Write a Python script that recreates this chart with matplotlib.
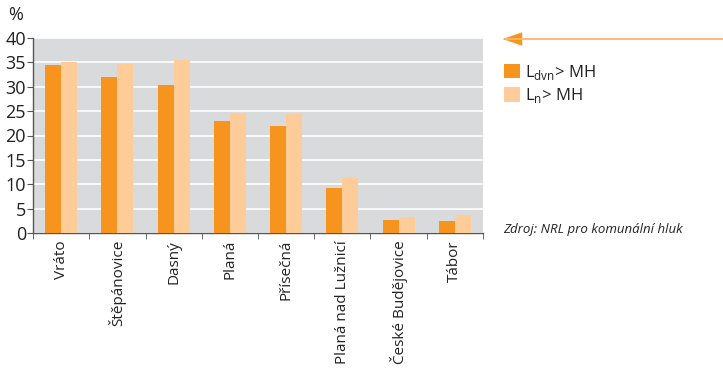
import numpy as np
import matplotlib.pyplot as plt
from matplotlib.patches import FancyArrowPatch

places = ['Vráto', 'Štěpánovice', 'Dasný', 'Planá', 'Přísečná',
          'Planá nad Lužnicí', 'České Budějovice', 'Tábor']
ldvn = [34.5, 32.0, 30.4, 22.9, 22.0, 9.3, 2.7, 2.4]
ln = [35.1, 34.7, 35.5, 24.7, 24.5, 11.3, 3.2, 3.6]

c_dark = '#f7941d'
c_light = '#fdcc99'

plt.rcParams['font.family'] = ['Open Sans', 'DejaVu Sans']
plt.rcParams['mathtext.fontset'] = 'custom'
plt.rcParams['mathtext.rm'] = 'Open Sans'

fig = plt.figure(figsize=(7.23, 3.68), dpi=100)
ax = fig.add_axes([33/723, 1-233/368, 450/723, 195/368])
ax.set_facecolor('#d9dadb')

x = np.arange(len(places))
w = 0.285
b1 = ax.bar(x - w/2, ldvn, w, color=c_dark, zorder=3)
b2 = ax.bar(x + w/2, ln, w, color=c_light, zorder=3)

ax.set_xlim(-0.5, len(places) - 0.5)
ax.set_ylim(0, 40)
ax.set_yticks(range(0, 41, 5))
ax.yaxis.grid(True, color='white', lw=1.2, zorder=1)
ax.set_axisbelow(True)

ax.set_xticks(x)
ax.set_xticklabels(places, rotation=90, fontsize=11, color='#222222')
ax.set_xticks(np.arange(-0.5, len(places), 1), minor=True)
ax.tick_params(axis='x', which='major', length=0, pad=5)
ax.tick_params(axis='x', which='minor', length=4, color='#555555', direction='out')
ax.tick_params(axis='y', labelsize=13, length=4, color='#555555', pad=1, labelcolor='#222222')

for s in ['top', 'right']:
    ax.spines[s].set_visible(False)
for s in ['left', 'bottom']:
    ax.spines[s].set_color('#555555')
    ax.spines[s].set_linewidth(1.0)

fig.text(8/723, 1-15/368, '%', fontsize=13, va='center', color='#222222')

leg = fig.legend([b1, b2], [r'L$_{\mathrm{dvn}}$> MH', r'L$_{\mathrm{n}}$> MH'],
                 loc='upper left', bbox_to_anchor=(497/723, 1-56/368),
                 frameon=False, fontsize=12, handlelength=1.0, handleheight=1.0,
                 handletextpad=0.3, labelspacing=0.25, borderaxespad=0)
for t in leg.get_texts():
    t.set_color('#222222')

# arrow pointing at the chart
fig.add_artist(plt.Line2D([506/723, 1.0], [1-39/368, 1-39/368],
                          transform=fig.transFigure, color='#fbb56a', lw=1.3))
fig.add_artist(FancyArrowPatch(
    (514/723, 1-39/368), (500/723, 1-39/368), transform=fig.transFigure,
    arrowstyle='-|>,head_length=13,head_width=4.5', color=c_dark, lw=0.5,
    mutation_scale=1))

fig.text(503/723, 1-230/368, 'Zdroj: NRL pro komunální hluk', fontsize=9.5,
         style='italic', va='center', color='#222222')

fig.savefig('out.png', dpi=100)
